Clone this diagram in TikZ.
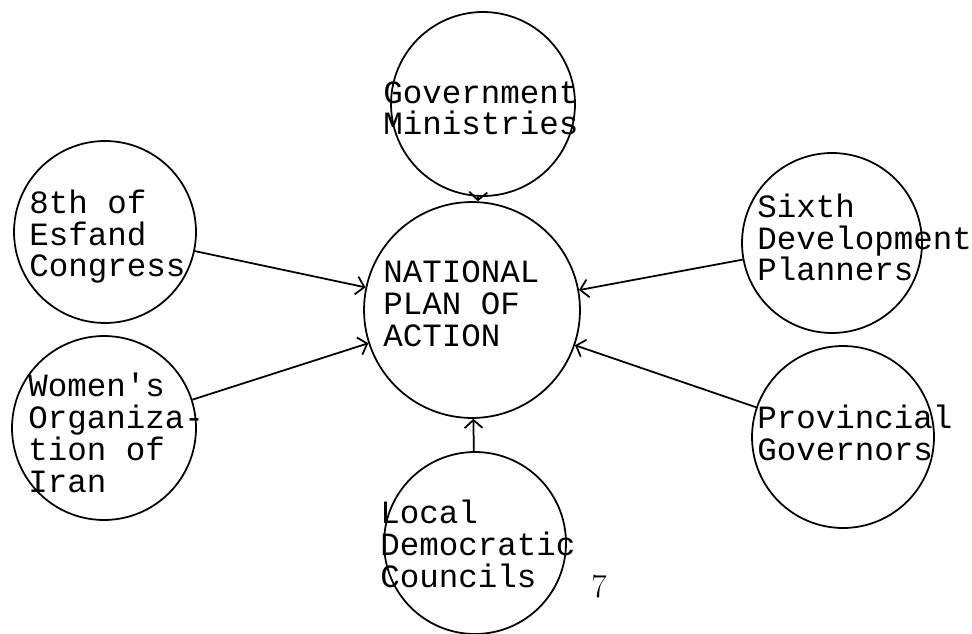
\documentclass[tikz,border=0pt]{standalone}
\usepackage{fontspec}
\setmonofont{Liberation Mono}
\usetikzlibrary{arrows.meta}
\begin{document}
\begin{tikzpicture}[x=0.02cm,y=-0.02cm,
		bubble/.style={circle,draw,line width=1pt,inner sep=0pt,minimum size=#1},
		label/.style={anchor=base west,align=left,inner sep=0pt,font=\ttfamily\fontsize{18.5}{18.1}\selectfont},
		feed/.style={line width=1pt,-{Straight Barb[length=1.6mm,width=3.6mm]}}]
	\useasboundingbox (0,0) rectangle (972,634);
	\node[bubble=4.32cm] (plan) at (472,310){};
	\node[bubble=3.68cm] (gov) at (483,104){};
	\node[bubble=3.64cm] (esfand) at (105,232){};
	\node[bubble=3.68cm] (women) at (104,428){};
	\node[bubble=3.6cm] (sixth) at (832,243){};
	\node[bubble=3.64cm] (prov) at (843,437){};
	\node[bubble=3.64cm] (local) at (475,543){};
	\node[label] (plantext) at (383,346){NATIONAL\\PLAN OF\\ACTION};
	\node[label] (govtext) at (383,135){Government\\Ministries};
	\node[label] (esfandtext) at (29,277){8th of\\Esfand\\Congress};
	\node[label] (womentext) at (28,492){Women's\\Organiza-\\tion of\\Iran};
	\node[label] (sixthtext) at (757,281){Sixth\\Development\\Planners};
	\node[label] (provtext) at (757,460){Provincial\\Governors};
	\node[label] (localtext) at (380,587){Local\\Democratic\\Councils};
	\node[font=\fontsize{19}{19}\selectfont] (page) at (599,586){7};
	\foreach \src in {gov,esfand,women,sixth,prov,local}{
		\draw[feed] (\src)--(plan);
	}
\end{tikzpicture}
\end{document}
